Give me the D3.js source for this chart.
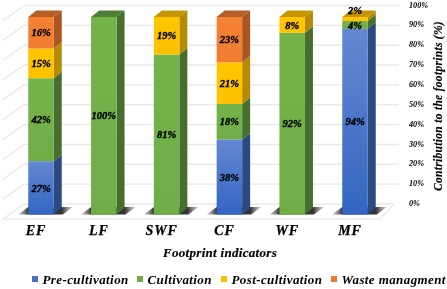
<!DOCTYPE html>
<html>
<head>
<meta charset="utf-8">
<script src="https://cdn.jsdelivr.net/npm/d3@7"></script>
<style>
  html, body { margin: 0; padding: 0; background: #fff; }
  svg { display: block; filter: blur(0.35px); }
  text { font-family: "Liberation Serif", serif; font-weight: bold; font-style: italic; fill: #000; }
</style>
</head>
<body>
<svg width="447" height="289"></svg>
<script>
const categories = ["EF", "LF", "SWF", "CF", "WF", "MF"];
const stages = ["Pre-cultivation", "Cultivation", "Post-cultivation", "Waste managment"];
const preCultivation = [27, 0, 0, 38, 0, 94];
const cultivation = [42, 100, 81, 18, 92, 4];
const postCultivation = [15, 0, 19, 21, 8, 2];
const wasteManagement = [16, 0, 0, 23, 0, 0];
const yTicks = [0, 10, 20, 30, 40, 50, 60, 70, 80, 90, 100];

const frontColors = ["#4472c4", "#70ad47", "#ffc000", "#ed7d31"];
const sideColors = ["#2b4a82", "#466f2d", "#b58a05", "#a9571f"];
const topColors = ["#34568f", "#517f35", "#c49505", "#b55f25"];

const svg = d3.select("svg");
const defs = svg.append("defs");

// the bars are drawn on the front plane, the grid on the back wall
const depthX = 8, depthY = -6.5;
const yFront = d3.scaleLinear().domain([0, 100]).range([214.5, 17]);
const yWall = d3.scaleLinear().domain([0, 100]).range([204, 5.5]);
const x = d3.scaleBand().domain(categories).range([9.6, 386.4]).paddingInner(0.594).paddingOuter(0.297);
const barW = x.bandwidth();

const rows = categories.map((c, i) => ({
  category: c,
  s0: preCultivation[i], s1: cultivation[i], s2: postCultivation[i], s3: wasteManagement[i]
}));
const stacked = d3.stack().keys(["s0", "s1", "s2", "s3"])(rows);

// gradients for the front faces, a bit lighter on top
frontColors.forEach((c, i) => {
  const g = defs.append("linearGradient").attr("id", "front" + i).attr("x1", 0).attr("x2", 0).attr("y1", 0).attr("y2", 1);
  g.append("stop").attr("offset", "0%").attr("stop-color", i === 0 ? "#6488d2" : d3.color(c).brighter(0.1));
  g.append("stop").attr("offset", "100%").attr("stop-color", i === 0 ? "#3366c2" : c);
});
const shadowGrad = defs.append("linearGradient").attr("id", "shadow").attr("x1", 0).attr("x2", 1).attr("y1", 0).attr("y2", 0);
shadowGrad.append("stop").attr("offset", "0%").attr("stop-color", "#666").attr("stop-opacity", 0.3);
shadowGrad.append("stop").attr("offset", "20%").attr("stop-color", "#222").attr("stop-opacity", 1);
shadowGrad.append("stop").attr("offset", "80%").attr("stop-color", "#333").attr("stop-opacity", 1);
shadowGrad.append("stop").attr("offset", "100%").attr("stop-color", "#777").attr("stop-opacity", 0.35);
defs.append("filter").attr("id", "soft").append("feGaussianBlur").attr("stdDeviation", 0.6);

// wall and floor grid
const wallLeft = 24, wallRight = 399, floorLeft = 3, floorRight = 380;
const grid = svg.append("g").attr("stroke", "#e9e9e9").attr("stroke-width", 1.4).attr("fill", "none");
grid.selectAll(".back").data(yTicks).join("line").attr("class", "back")
  .attr("x1", wallLeft).attr("x2", d => d === 0 ? 394 : wallRight)
  .attr("y1", d => yWall(d)).attr("y2", d => yWall(d));
grid.selectAll(".side").data(yTicks).join("line").attr("class", "side")
  .attr("x1", wallLeft).attr("x2", floorLeft)
  .attr("y1", d => yWall(d)).attr("y2", d => yWall(d) + 15);
grid.append("line").attr("x1", floorLeft).attr("x2", floorRight).attr("y1", yWall(0) + 15).attr("y2", yWall(0) + 15);
grid.append("line").attr("x1", 394).attr("x2", floorRight).attr("y1", yWall(0)).attr("y2", yWall(0) + 15);

// floor shadows
svg.append("g").selectAll("path").data(categories).join("path")
  .attr("fill", "url(#shadow)").attr("filter", "url(#soft)")
  .attr("d", c => {
    const l = x(c) - 10, r = x(c) + barW + 19, b = yFront(0), t = b - 7.5;
    return `M${l},${b}L${l + 10},${t}L${r},${t}L${r - 10},${b}Z`;
  });

// bars, bottom segment first
categories.forEach((c, i) => {
  const bar = svg.append("g");
  const lastIdx = d3.max(stacked.filter(s => s[i][1] > s[i][0]), s => s.index);
  stacked.forEach((s, k) => {
    const [y0, y1] = s[i];
    if (y1 <= y0) return;
    const xl = x(c), xr = xl + barW;
    bar.append("path").attr("fill", sideColors[k])
      .attr("d", `M${xr},${yFront(y0)}L${xr + depthX},${yFront(y0) + depthY}L${xr + depthX},${yFront(y1) + depthY}L${xr},${yFront(y1)}Z`);
    bar.append("rect").attr("x", xl).attr("width", barW)
      .attr("y", yFront(y1)).attr("height", yFront(y0) - yFront(y1))
      .attr("fill", `url(#front${k})`);
    if (k === lastIdx) {
      bar.append("path").attr("fill", topColors[k])
        .attr("d", `M${xl},${yFront(y1)}L${xl + depthX},${yFront(y1) + depthY}L${xr + depthX},${yFront(y1) + depthY}L${xr},${yFront(y1)}Z`);
    }
  });
});

// value labels
const labels = svg.append("g").attr("font-size", 10.5).attr("text-anchor", "middle");
stacked.forEach(s => {
  s.forEach((d, i) => {
    const v = d[1] - d[0];
    if (v <= 0) return;
    // 2% does not fit in the segment, it sits on top of the bar
    const ty = v < 3 ? yFront(d[1]) - 7 : yFront((d[0] + d[1]) / 2);
    labels.append("text")
      .attr("x", x(categories[i]) + barW / 2)
      .attr("y", ty)
      .attr("dy", "0.35em")
      .attr("stroke", "#000").attr("stroke-width", 0.35)
      .text(v + "%");
  });
});

// y axis, labels only
const yAxis = d3.axisRight(yWall).tickValues(yTicks).tickSize(0).tickPadding(0).tickFormat(d => d + "%");
svg.append("g").attr("transform", "translate(409,-1)").call(yAxis)
  .call(g => g.select(".domain").remove())
  .selectAll("text").attr("font-size", 8.2);

svg.append("text").attr("transform", "translate(438,106) rotate(-90)")
  .attr("text-anchor", "middle").attr("dy", "0.35em")
  .attr("font-size", 11.5).attr("letter-spacing", 0.3).attr("stroke", "#000").attr("stroke-width", 0.15)
  .text("Contribution to the footprints (%)");

// x axis sits on the floor, shifted left of the bars
const xAxis = d3.axisBottom(x).tickSize(0).tickPadding(0);
svg.append("g").attr("transform", "translate(-5,225)").call(xAxis)
  .call(g => g.select(".domain").remove())
  .selectAll("text").attr("font-size", 14).attr("letter-spacing", 0.8)
  .attr("stroke", "#000").attr("stroke-width", 0.25);

svg.append("text").attr("x", 220).attr("y", 252).attr("dy", "0.35em")
  .attr("text-anchor", "middle").attr("font-size", 13).attr("letter-spacing", 0.3)
  .attr("stroke", "#000").attr("stroke-width", 0.2)
  .text("Footprint indicators");

// legend
const legendX = [32, 137, 221, 331];
const legend = svg.append("g").selectAll("g").data(stages).join("g")
  .attr("transform", (d, i) => `translate(${legendX[i]},279)`);
legend.append("rect").attr("y", -3).attr("width", 6).attr("height", 6).attr("fill", (d, i) => frontColors[i]);
legend.append("text").attr("x", 10.5).attr("dy", "0.35em")
  .attr("font-size", 13).attr("letter-spacing", 0.4).text(d => d);
</script>
</body>
</html>
